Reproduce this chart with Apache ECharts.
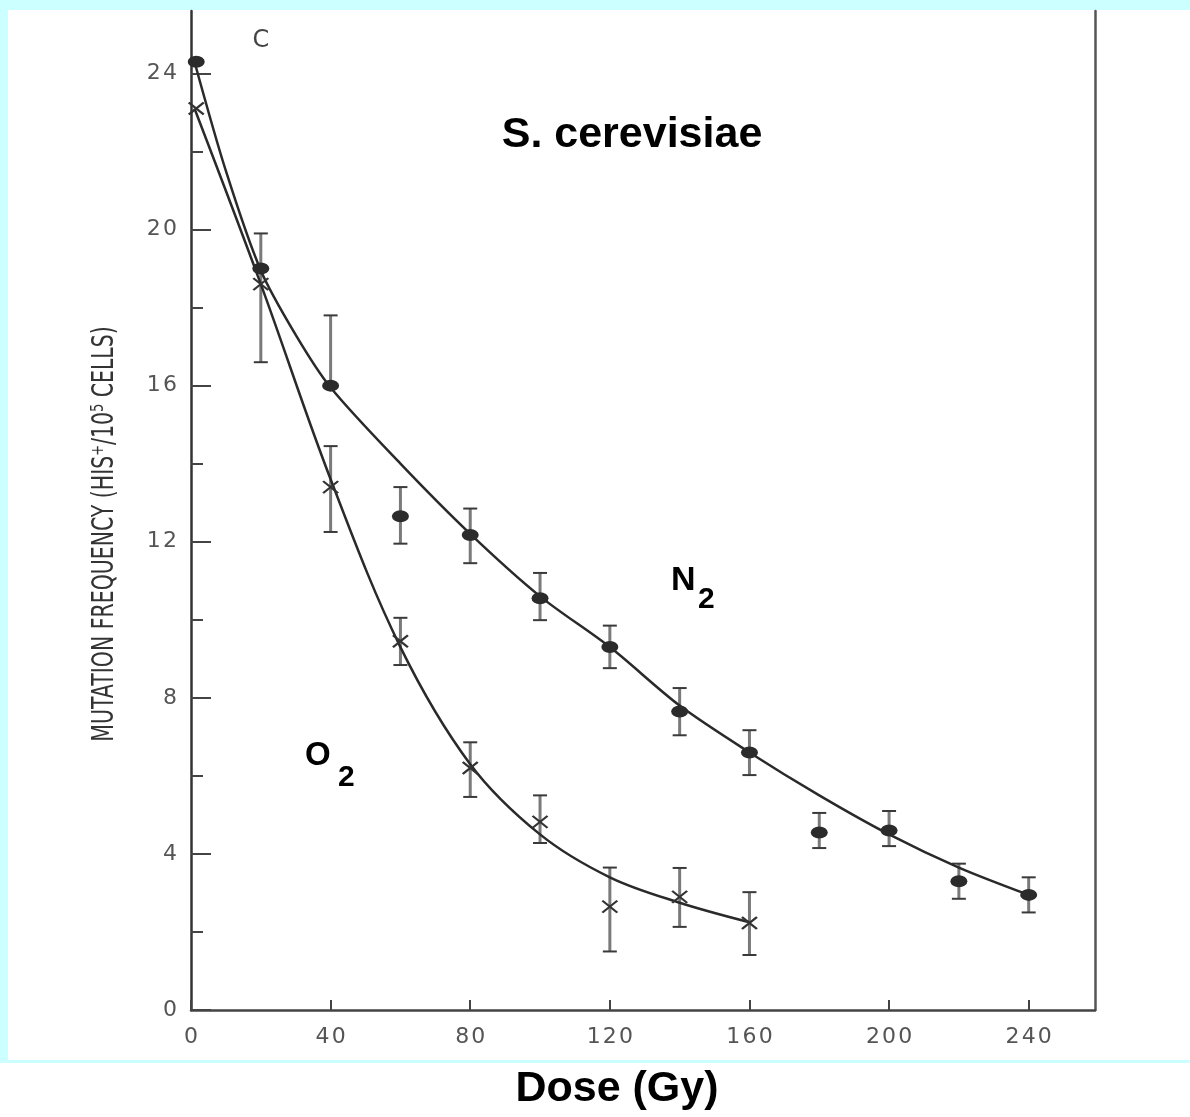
<!DOCTYPE html>
<html>
<head>
<meta charset="utf-8">
<script src="https://cdn.jsdelivr.net/npm/echarts@6/dist/echarts.min.js"></script>
<style>
  html, body { margin: 0; padding: 0; background: #ccffff; }
  #page { position: absolute; left: 0; top: 0; width: 1190px; height: 1117px; }
  #chart { position: absolute; left: 0; top: 0; width: 1190px; height: 1117px; }
</style>
</head>
<body>
<div id="page"><div id="chart"></div></div>
<script>
// ---- data ----
const xTicks = [0, 40, 80, 120, 160, 200, 240];
const yTicks = [0, 4, 8, 12, 16, 20, 24];
const yMinorTicks = [2, 6, 10, 14, 18, 22];

// N2 (filled dots)
const n2Dose = [1.5, 20, 40, 60, 80, 100, 120, 140, 160, 180, 200, 220, 240];
const n2Freq = [24.3, 19.0, 16.0, 12.65, 12.17, 10.55, 9.3, 7.65, 6.6, 4.55, 4.6, 3.3, 2.95];
const n2Low  = [null, null, 16.0, 11.95, 11.45, 9.99, 8.76, 7.04, 6.02, 4.15, 4.2, 2.85, 2.5];
const n2High = [null, null, 17.8, 13.4, 12.85, 11.2, 9.85, 8.25, 7.17, 5.05, 5.1, 3.75, 3.4];

// O2 (crosses)
const o2Dose = [1.5, 20, 40, 60, 80, 100, 120, 140, 160];
const o2Freq = [23.1, 18.6, 13.4, 9.45, 6.2, 4.82, 2.65, 2.9, 2.23];
const o2Low  = [null, 16.6, 12.25, 8.84, 5.46, 4.28, 1.5, 2.13, 1.41];
const o2High = [null, 19.9, 14.45, 10.05, 6.86, 5.5, 3.65, 3.64, 3.02];

// fitted curves
const n2FitDose = [1, 10, 20, 30, 40, 60, 80, 100, 120, 140, 160, 180, 200, 220, 240];
const n2Fit     = [24.3, 21.5, 18.95, 17.3, 15.95, 14.0, 12.2, 10.6, 9.3, 7.8, 6.6, 5.5, 4.5, 3.65, 2.95];
const o2FitDose = [1, 20, 40, 60, 80, 100, 120, 140, 160];
const o2Fit     = [23.1, 18.6, 13.6, 9.3, 6.3, 4.5, 3.4, 2.75, 2.25];

// ---- build series data ----
const zip = (a, b) => a.map((v, i) => [v, b[i]]);
const errData = (xs, lo, hi) => xs.map((x, i) => [x, lo[i], hi[i]]).filter(d => d[1] != null);

const spaced = v => String(v).split('').join('\u200a');

const chart = echarts.init(document.getElementById('chart'), null, { renderer: 'canvas' });

function renderErr(params, api) {
  const x = api.value(0);
  const lo = api.coord([x, api.value(1)]);
  const hi = api.coord([x, api.value(2)]);
  const cap = 7;
  return {
    type: 'group',
    children: [
      { type: 'line', shape: { x1: lo[0], y1: lo[1], x2: hi[0], y2: hi[1] },
        style: { stroke: '#7a7a7a', lineWidth: 3 } },
      { type: 'line', shape: { x1: lo[0] - cap, y1: lo[1], x2: lo[0] + cap, y2: lo[1] },
        style: { stroke: '#3a3a3a', lineWidth: 2 } },
      { type: 'line', shape: { x1: hi[0] - cap, y1: hi[1], x2: hi[0] + cap, y2: hi[1] },
        style: { stroke: '#3a3a3a', lineWidth: 2 } }
    ]
  };
}

const labelFont = { fontFamily: 'DejaVu Sans', fontSize: 22, color: '#555' };

const option = {
  backgroundColor: 'transparent',
  animation: false,
  graphic: [
    { type: 'rect', z: -10, shape: { x: 8, y: 10, width: 1182, height: 1050 }, style: { fill: '#ffffff' } },
    { type: 'rect', z: -10, shape: { x: 0, y: 1063, width: 1190, height: 54 }, style: { fill: '#ffffff' } },
    { type: 'text', x: 632, y: 135, style: { text: 'S. cerevisiae', fill: '#000', font: 'bold 43px "Liberation Sans", Arial, sans-serif', align: 'center', verticalAlign: 'middle' } },
    { type: 'text', x: 671, y: 581, style: { text: 'N', fill: '#000', font: 'bold 34px "Liberation Sans", Arial, sans-serif', align: 'left', verticalAlign: 'middle' } },
    { type: 'text', x: 698, y: 600, style: { text: '2', fill: '#000', font: 'bold 30px "Liberation Sans", Arial, sans-serif', align: 'left', verticalAlign: 'middle' } },
    { type: 'text', x: 305, y: 756, style: { text: 'O', fill: '#000', font: 'bold 33px "Liberation Sans", Arial, sans-serif', align: 'left', verticalAlign: 'middle' } },
    { type: 'text', x: 338, y: 778, style: { text: '2', fill: '#000', font: 'bold 30px "Liberation Sans", Arial, sans-serif', align: 'left', verticalAlign: 'middle' } },
    { type: 'text', x: 617, y: 1089, style: { text: 'Dose (Gy)', fill: '#000', font: 'bold 43px "Liberation Sans", Arial, sans-serif', align: 'center', verticalAlign: 'middle' } },
    { type: 'text', x: 261, y: 41, style: { text: 'C', fill: '#444', font: '24px "DejaVu Sans", sans-serif', align: 'center', verticalAlign: 'middle' } },
    { type: 'text', x: 105, y: 534, rotation: Math.PI / 2, scaleX: 0.66, scaleY: 1,
      style: { text: 'MUTATION FREQUENCY (HIS\u207A/10\u2075 CELLS)', fill: '#333', font: '31px "DejaVu Sans", sans-serif', align: 'center', verticalAlign: 'middle' } }
  ],
  grid: { left: 191, top: 11, right: 95, bottom: 107, containLabel: false },
  xAxis: {
    type: 'value', min: 0, max: 259,
    axisLine: { show: true, lineStyle: { color: '#444', width: 2.5 } },
    axisTick: { show: true, inside: true, length: 10, customValues: xTicks, lineStyle: { color: '#444', width: 2 } },
    axisLabel: { show: true, margin: 16, customValues: xTicks, formatter: spaced, ...labelFont },
    splitLine: { show: false }
  },
  yAxis: [
    {
      type: 'value', min: 0, max: 25.6, position: 'left',
      axisLine: { show: true, lineStyle: { color: '#333', width: 2.5 } },
      axisTick: { show: true, inside: true, length: 20, customValues: yTicks, lineStyle: { color: '#444', width: 2 } },
      axisLabel: { show: true, margin: 14, customValues: yTicks, formatter: spaced, ...labelFont },
      splitLine: { show: false }
    },
    {
      type: 'value', min: 0, max: 25.6, position: 'left',
      axisLine: { show: false },
      axisTick: { show: true, inside: true, length: 12, customValues: yMinorTicks, lineStyle: { color: '#444', width: 2 } },
      axisLabel: { show: false },
      splitLine: { show: false }
    },
    {
      type: 'value', min: 0, max: 25.6, position: 'right',
      axisLine: { show: true, lineStyle: { color: '#555', width: 2.5 } },
      axisTick: { show: false }, axisLabel: { show: false }, splitLine: { show: false }
    }
  ],
  series: [
    { name: 'N2 error', type: 'custom', renderItem: renderErr, data: errData(n2Dose, n2Low, n2High), z: 2, silent: true },
    { name: 'O2 error', type: 'custom', renderItem: renderErr, data: errData(o2Dose, o2Low, o2High), z: 2, silent: true },
    { name: 'N2 fit', type: 'line', data: zip(n2FitDose, n2Fit), smooth: 0.3, showSymbol: false,
      lineStyle: { color: '#2a2a2a', width: 2.5 }, z: 3 },
    { name: 'O2 fit', type: 'line', data: zip(o2FitDose, o2Fit), smooth: 0.35, showSymbol: false,
      lineStyle: { color: '#2a2a2a', width: 2.5 }, z: 3 },
    { name: 'N2', type: 'scatter', data: zip(n2Dose, n2Freq), symbol: 'circle', symbolSize: [17, 12],
      itemStyle: { color: '#2b2b2b', opacity: 1 }, z: 4 },
    { name: 'O2', type: 'scatter', data: zip(o2Dose, o2Freq), symbol: 'path://M0 0L14 11M14 0L0 11', symbolSize: [15, 12],
      itemStyle: { color: 'none', borderColor: '#333', borderWidth: 2.2, opacity: 1 }, z: 4 }
  ]
};
chart.setOption(option);
</script>
</body>
</html>
